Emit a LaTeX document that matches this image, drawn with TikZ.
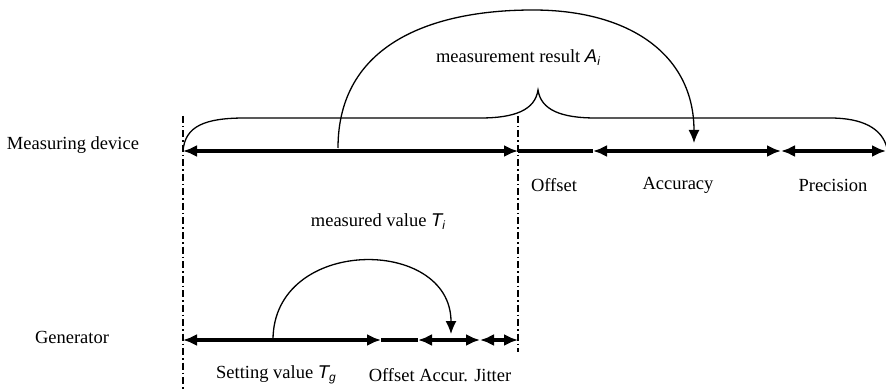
\documentclass[tikz,border=0pt]{standalone}
\usepackage{fontspec}
\setmainfont{Liberation Serif}
\newfontfamily\sfit{Liberation Sans}
\usetikzlibrary{arrows.meta}
\newcommand{\symb}[2]{{\sfit\itshape #1}\raisebox{-0.35ex}{\fontsize{12}{12}\selectfont\sfit\itshape #2}}
\tikzset{
  txt/.style={font=\fontsize{18.5}{22}\selectfont, inner sep=0pt},
  bar/.style={line width=3.6pt},
  dbl/.style={bar, {Latex[length=14pt,width=12pt]}-{Latex[length=14pt,width=12pt]}},
  thin/.style={line width=1.3pt},
  thinarr/.style={thin, -{Latex[length=13pt,width=11pt]}},
  dashdot/.style={line width=1.2pt, dash pattern=on 7pt off 3pt on 1.5pt off 3pt}
}
\begin{document}
\begin{tikzpicture}[x=1pt,y=-1pt]
\useasboundingbox (0,0) rectangle (886,390);
% coordinates
\coordinate (L0) at (183,116);
\coordinate (L1) at (183,390);
\coordinate (R0) at (518,116);
\coordinate (R1) at (518,352);
\coordinate (a0) at (183,151);
\coordinate (a1) at (518,151);
\coordinate (a2) at (593,151);
\coordinate (a3) at (781,151);
\coordinate (a4) at (886,151);
\coordinate (b0) at (183,340);
\coordinate (b1) at (381,340);
\coordinate (b2) at (418,340);
\coordinate (b3) at (480,340);
\coordinate (b4) at (518,340);
\coordinate (arcA) at (338,148);
\coordinate (arcAend) at (694,143);
\coordinate (arcB) at (273,340);
\coordinate (arcBend) at (451,334);
\coordinate (cusp) at (538,90);
% dash-dot guide lines
\draw[dashdot] (L0) -- (L1);
\draw[dashdot] (R0) -- (R1);
% top row
\draw[dbl] (a0) -- (a1);
\draw[bar] (a1) -- (a2);
\draw[dbl] (a2) -- (a3);
\draw[dbl] (a3) -- (a4);
% bottom row
\draw[dbl] (b0) -- (b1);
\draw[bar] (b1) -- (b2);
\draw[dbl] (b2) -- (b3);
\draw[dbl] (b3) -- (b4);
% brace
\draw[thin] (a0) .. controls (185,126) and (205,118) .. (245,118)
  -- (480,118) .. controls (515,118) and (535,110) .. (cusp)
  .. controls (541,110) and (561,118) .. (596,118)
  -- (830,118) .. controls (862,118) and (882,128) .. (887,148);
% arcs
\draw[thinarr] (arcA) .. controls (338,45) and (430,10) .. (533,10)
  .. controls (630,10) and (694,55) .. (arcAend);
\draw[thinarr] (arcB) .. controls (273,236) and (451,236) .. (arcBend);
% labels
\node[txt] (md) at (73,145) {Measuring device};
\node[txt] (gen) at (72,337) {Generator};
\node[txt] (mr) at (518,58) {measurement result \symb{A}{i}};
\node[txt] (mv) at (378,222) {measured value \symb{T}{i}};
\node[txt] (off) at (554,185) {Offset};
\node[txt] (acc) at (678,185) {Accuracy};
\node[txt] (pre) at (833,185) {Precision};
\node[txt] (sv) at (276,375) {Setting value \symb{T}{g}};
\node[txt] (oaj) at (440,375) {Offset Accur. Jitter};
\end{tikzpicture}
\end{document}
